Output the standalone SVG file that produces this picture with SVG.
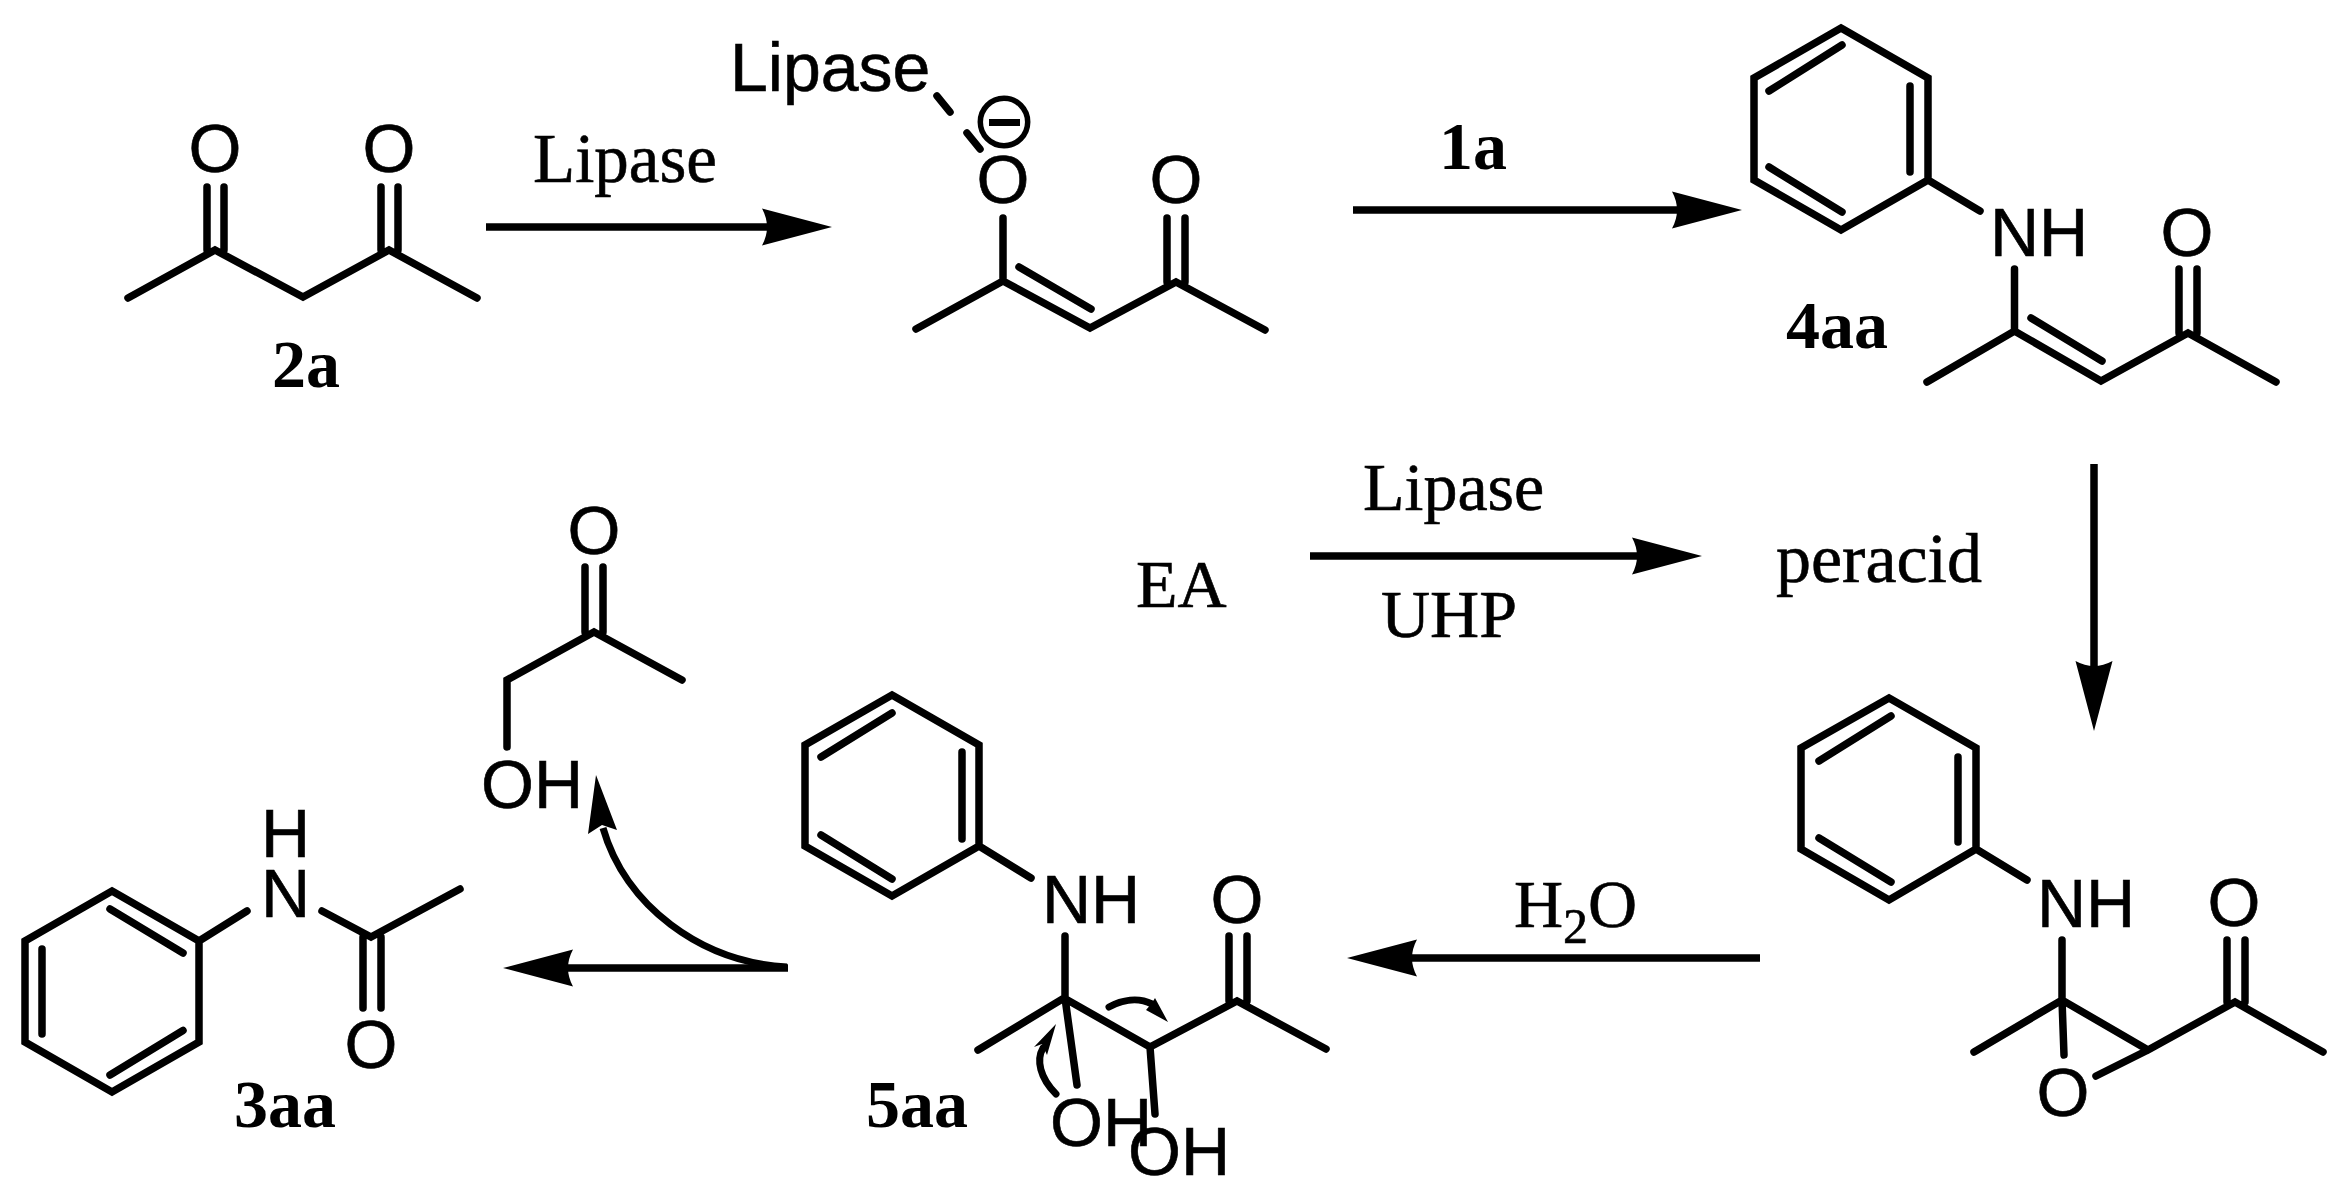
<svg xmlns="http://www.w3.org/2000/svg" width="2336" height="1199" viewBox="0 0 2336 1199">
<style>
.b{fill:none;stroke:#000;stroke-width:7.500;stroke-linecap:round;stroke-linejoin:miter}
.a{fill:none;stroke:#000;stroke-width:7.500}
.c{fill:none;stroke:#000;stroke-width:7;stroke-linecap:round}
.s{font-family:"Liberation Sans",Arial,sans-serif;font-size:68px;fill:#000;stroke:#000;stroke-width:.6}
.t{font-family:"Liberation Serif","Times New Roman",serif;font-size:68px;fill:#000;stroke:#000;stroke-width:.6}
.tb{font-family:"Liberation Serif","Times New Roman",serif;font-size:68px;font-weight:700;fill:#000}
.m{text-anchor:middle}
</style>
<defs>
<marker id="head" markerUnits="userSpaceOnUse" markerWidth="72" markerHeight="40" refX="10" refY="19" orient="auto" overflow="visible">
<path d="M0,0.500 L70,19 L0,37.500 Q10,19 0,0.500Z" fill="#000"/>
</marker>
</defs>
<rect width="2336" height="1199" fill="#fff"/>
<g id="connectors">
<path class="a" d="M486,227H772" marker-end="url(#head)"/>
<path class="a" d="M1353,210H1682" marker-end="url(#head)"/>
<path class="a" d="M1310,556H1642" marker-end="url(#head)"/>
<path class="a" d="M2094,464V671" marker-end="url(#head)"/>
<path class="a" d="M1760,958H1407" marker-end="url(#head)"/>
<path class="a" d="M788,968H563" marker-end="url(#head)"/>
<g id="curved-arrows">
<path class="c" style="stroke-linecap:butt" d="M787,967C700,962 625,905 603,828"/>
<path d="M596,775L617,830L602,825L588,834Z" fill="#000"/>
<path class="c" d="M1056,1094C1040,1078 1036,1060 1043,1048"/>
<path d="M1056,1024L1034,1047L1042,1044L1047,1055Z" fill="#000"/>
<path class="c" d="M1109,1007C1122,1000 1138,997 1152,1004"/>
<path d="M1168,1022L1155,998L1152,1003L1146,1010Z" fill="#000"/>
</g>
</g>
<g id="mol-2a">
<path class="b" d="M128,298L215,250L303,297L389,250L477,298M207,187V250M224,187V250M381,187V250M398,187V250"/>
<text class="s m" x="215" y="172">O</text>
<text class="s m" x="389" y="172">O</text>
<text class="tb m" x="306" y="387">2a</text>
</g>
<g id="label-lipase-1"><text class="t" x="533" y="182" font-size="69" style="font-size:69px">Lipase</text></g>
<g id="mol-enolate">
<text class="s" x="730" y="91">Lipase</text>
<path class="b" d="M937,96L950,112M967,133L980,149"/>
<circle cx="1004" cy="122" r="23.700" fill="none" stroke="#000" stroke-width="5.500"/>
<path d="M989,119H1020V126H989Z" fill="#000"/>
<text class="s m" x="1003" y="203">O</text>
<path class="b" d="M916,329L1003,281L1090,328L1176,282L1265,330M1003,218V281M1019,267L1091,309M1167,218V282M1185,218V282"/>
<text class="s m" x="1176" y="203">O</text>
</g>
<g id="label-1a"><text class="tb" x="1439" y="169">1a</text></g>
<g id="mol-4aa">
<path class="b" d="M1841,28L1928,78V180L1841,230L1754,180V78ZM1769,91L1842,45M1910,86V172M1769,167L1842,212M1928,180L1980,211"/>
<text class="s" x="1990" y="256">NH</text>
<path class="b" d="M1927,382L2014.500,331L2101,381L2188,333L2276,382M2014.500,269V331M2031,318L2102,361M2179,269V333M2197,269V333"/>
<text class="s m" x="2187" y="256">O</text>
<text class="tb" x="1786" y="348">4aa</text>
</g>
<g id="label-ea"><text class="t" x="1136" y="607">EA</text></g>
<g id="label-lipase-2"><text class="t" x="1363" y="510">Lipase</text></g>
<g id="label-uhp"><text class="t" x="1381" y="637">UHP</text></g>
<g id="label-peracid"><text class="t" x="1776" y="582" style="font-size:70px">peracid</text></g>
<g id="mol-epoxide">
<path class="b" d="M1889,698L1976,748V849L1889,900L1801,849V748ZM1819,761L1891,716M1958,757V842M1819,838L1891,882M1976,849L2027,880"/>
<text class="s" x="2037" y="927">NH</text>
<path class="b" d="M1974,1052L2062,1000L2148,1050L2235,1002L2323,1052M2062,940V1000L2064,1055M2227,940V1002M2245,940V1002M2148,1050L2096,1076"/>
<text class="s m" x="2234" y="926">O</text>
<text class="s m" x="2063" y="1116">O</text>
</g>
<g id="label-h2o">
<text class="t" x="1514" y="927">H<tspan style="font-size:50px" dy="16">2</tspan><tspan dy="-16">O</tspan></text>
</g>
<g id="mol-5aa">
<path class="b" d="M892,695L979,745V846L892,896L805,846V745ZM821,757L892,713M962,752V839M821,835L892,879M979,846L1031,878"/>
<text class="s" x="1042" y="923">NH</text>
<path class="b" d="M978,1050L1064,998L1150,1047L1237,1001L1326,1049M1065,936V998L1077,1085M1150,1047L1155,1114M1229,936V1001M1247,936V1001"/>
<text class="s m" x="1237" y="923">O</text>
<text class="s" x="1050" y="1146">OH</text>
<text class="s" x="1128" y="1175">OH</text>
<text class="tb" x="866" y="1127">5aa</text>
</g>
<g id="mol-hydroxyacetone">
<text class="s m" x="594" y="554">O</text>
<path class="b" d="M585,567V632M603,567V632M682,680L594,632L507,680V747"/>
<text class="s" x="481" y="808">OH</text>
</g>
<g id="mol-3aa">
<path class="b" d="M112,891L199,941V1042L112,1092L25,1042V941ZM110,909L183,953M42,949V1034M110,1075L183,1030.500M199,941L247,911"/>
<text class="s m" x="285.500" y="857">H</text>
<text class="s m" x="285.500" y="917">N</text>
<path class="b" d="M322,911L371,937L460,889M363,937V1008M381,937V1008"/>
<text class="s m" x="371" y="1068">O</text>
<text class="tb" x="234" y="1127">3aa</text>
</g>
</svg>
